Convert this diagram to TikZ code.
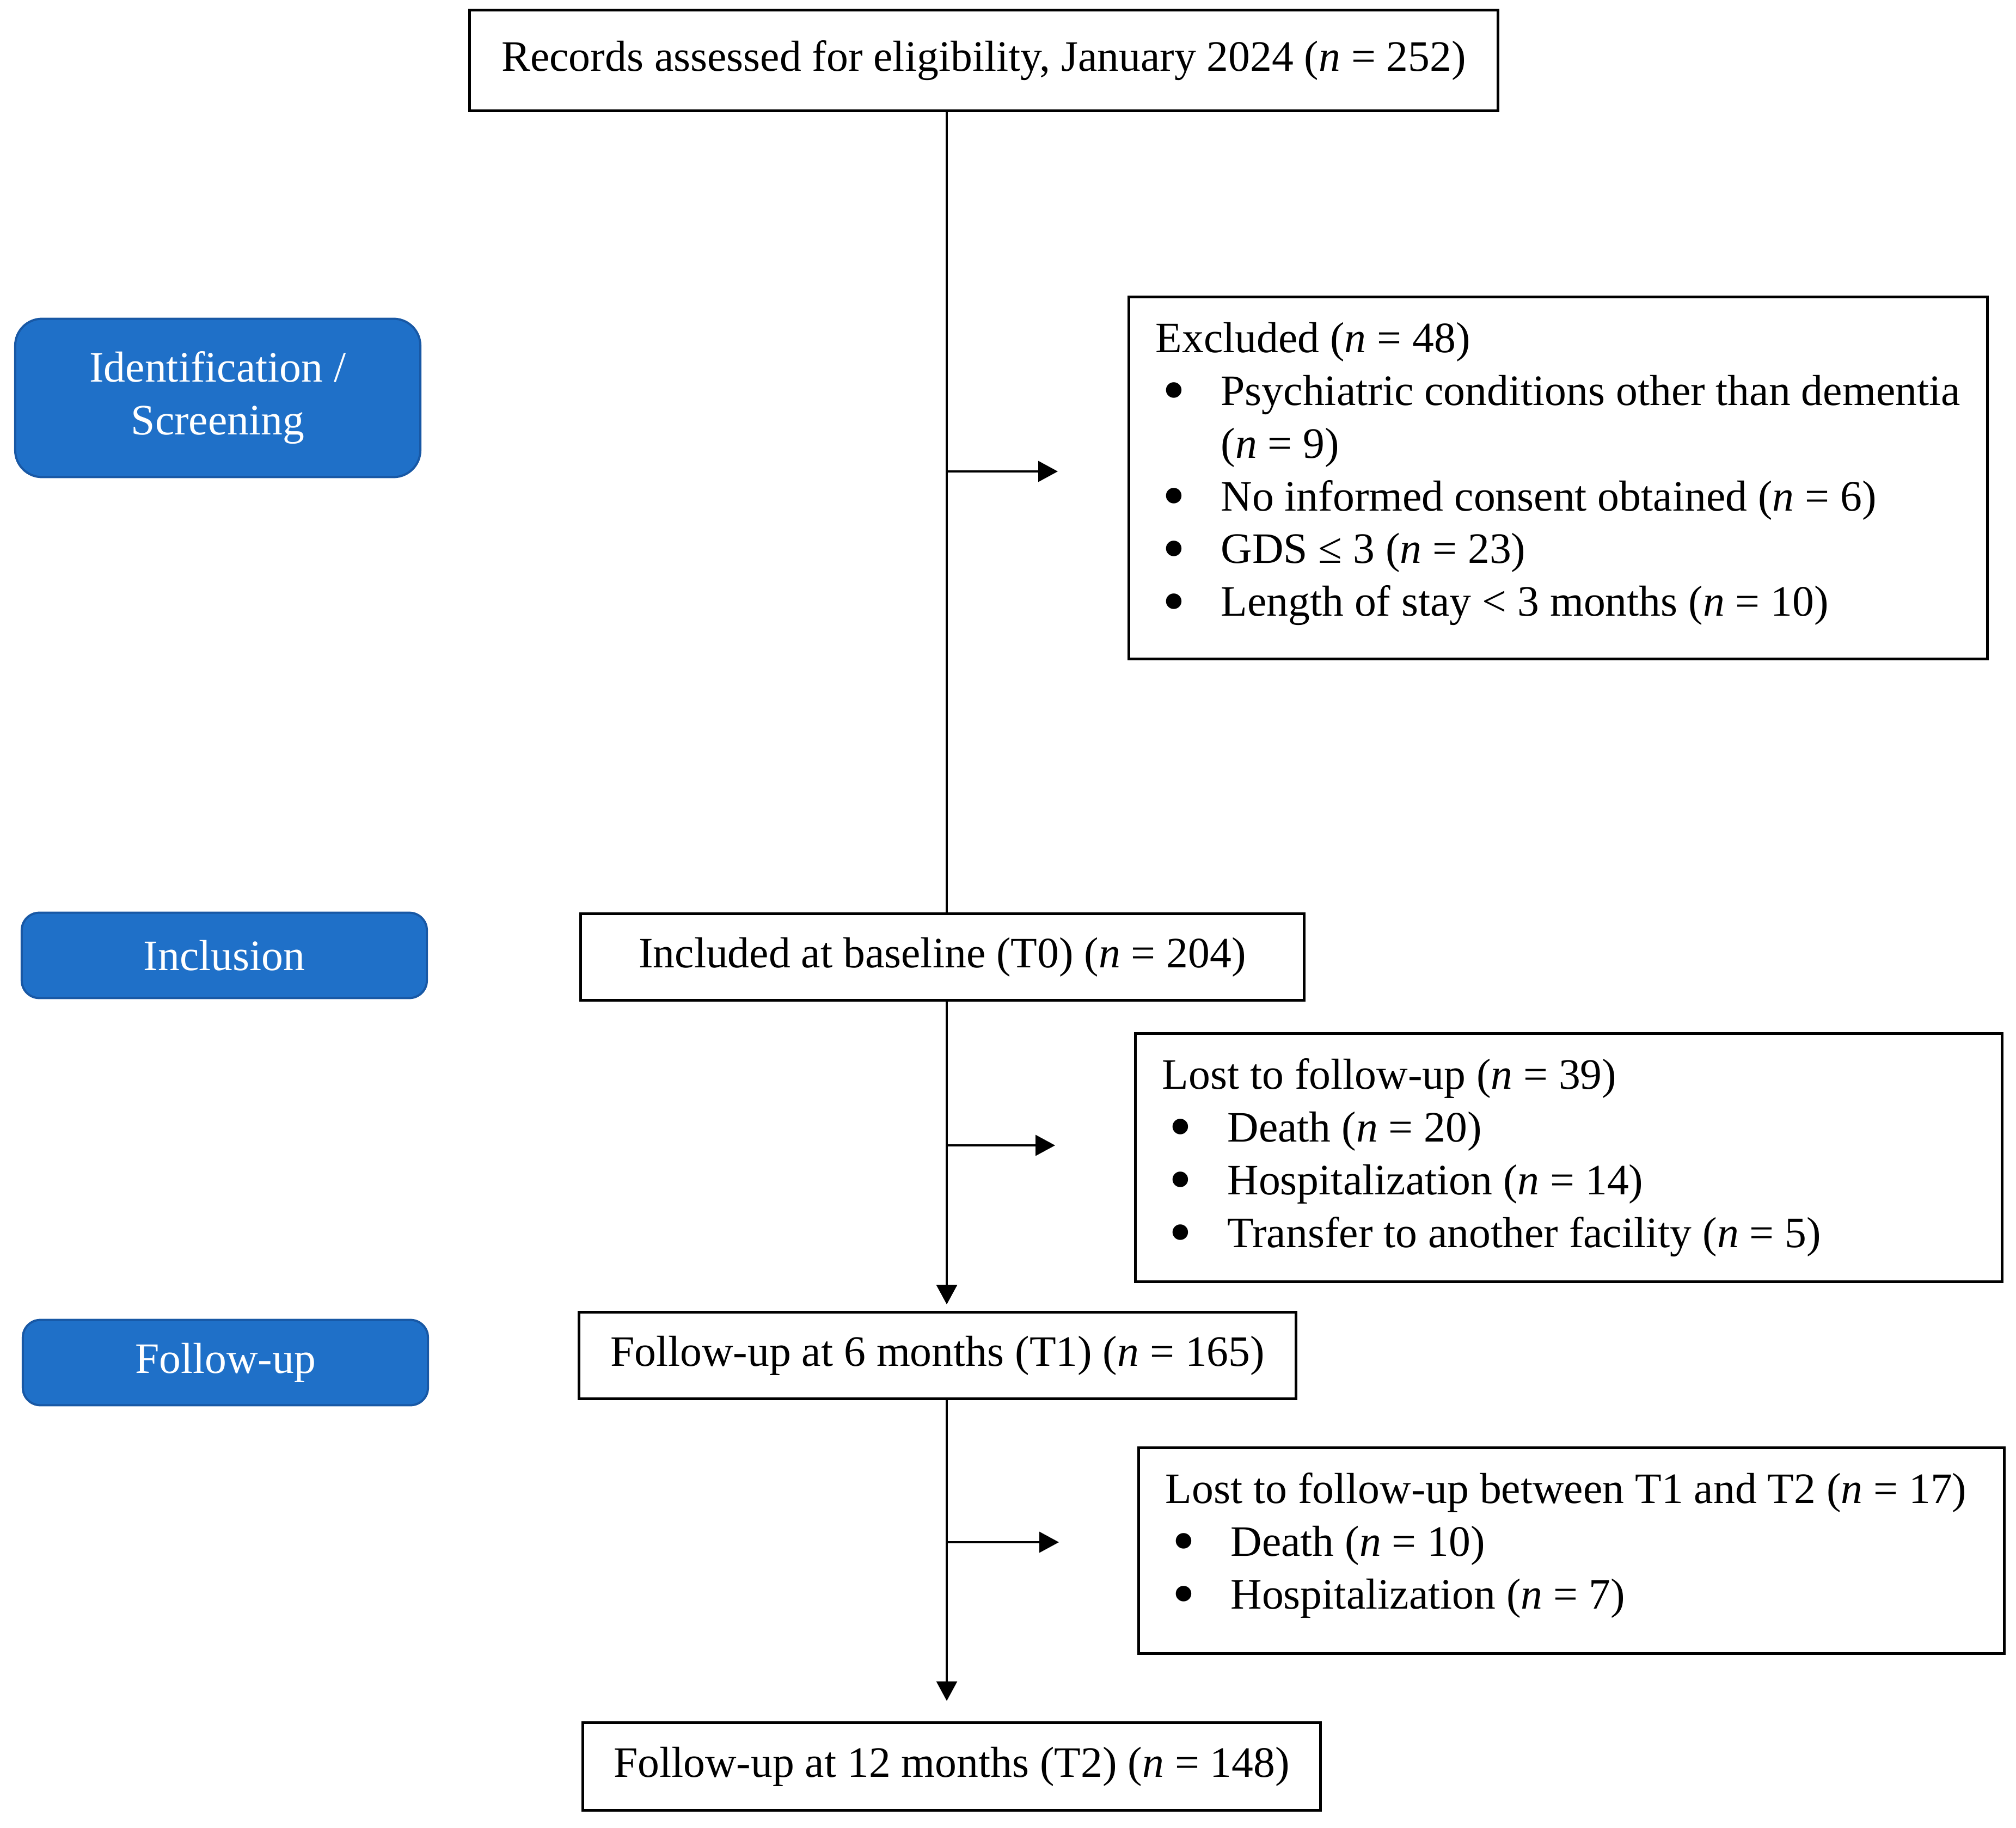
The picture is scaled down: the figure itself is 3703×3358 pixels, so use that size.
\documentclass[tikz,border=0pt]{standalone}
\usepackage{fontspec}
\setmainfont{Liberation Serif}
\usepackage{tikz}
\usetikzlibrary{arrows.meta}
\definecolor{phaseblue}{RGB}{31,112,200}
\definecolor{phaseedge}{RGB}{24,88,165}
\newcommand{\nv}{\textit{n}}
\newcommand{\blt}{\makebox[0.635cm][l]{\hspace{0.07cm}\smash{\raisebox{-1.9pt}{\scalebox{1.5}{\textbullet}}}}}

\begin{document}
\begin{tikzpicture}[x=0.0053cm,y=-0.0053cm,
  font=\fontsize{12}{14.6}\selectfont,
  box/.style={draw,line width=0.75pt,inner sep=0pt},
  listbox/.style={draw,line width=0.75pt,anchor=north west,inner xsep=0.26cm,inner ysep=0.18cm},
  phase/.style={draw=phaseedge,fill=phaseblue,text=white,line width=0.6pt,minimum width=3.94cm,align=center},
  arr/.style={-{Triangle[length=0.19cm,width=0.2cm]},line width=0.6pt}]

\useasboundingbox (0,0) rectangle (3703,3358);

\node[phase,rounded corners=0.26cm,minimum height=1.54cm] (p1) at (400,731)
{Identification /\\Screening};
\node[phase,rounded corners=0.17cm,minimum height=0.83cm] (p2) at (412,1755)
{Inclusion};
\node[phase,rounded corners=0.17cm,minimum height=0.83cm] (p3) at (414,2503)
{Follow-up};

\node[box,minimum width=10cm,minimum height=0.975cm] (1) at (1807,111)
{Records assessed for eligibility, January 2024 (\nv{} = 252)};
\node[box,minimum width=7.04cm,minimum height=0.84cm] (2) at (1731,1758)
{Included at baseline (T0) (\nv{} = 204)};
\node[box,minimum width=6.97cm,minimum height=0.84cm] (3) at (1722,2490)
{Follow-up at 6 months (T1) (\nv{} = 165)};
\node[box,minimum width=7.17cm,minimum height=0.85cm] (4) at (1748,3245)
{Follow-up at 12 months (T2) (\nv{} = 148)};

\node[listbox] (1a) at (2071,543)
{\makebox[7.83cm][l]{\begin{tabular}{@{}l@{}}
Excluded (\nv{} = 48)\\
\blt Psychiatric conditions other than dementia\\
\hspace{0.635cm}(\nv{} = 9)\\
\blt No informed consent obtained (\nv{} = 6)\\
\blt GDS ≤ 3 (\nv{} = 23)\\
\blt Length of stay < 3 months (\nv{} = 10)\\[0.08cm]
\end{tabular}}};
\node[listbox] (2a) at (2083,1896)
{\makebox[7.91cm][l]{\begin{tabular}{@{}l@{}}
Lost to follow-up (\nv{} = 39)\\
\blt Death (\nv{} = 20)\\
\blt Hospitalization (\nv{} = 14)\\
\blt Transfer to another facility (\nv{} = 5)
\end{tabular}}};
\node[listbox] (3a) at (2089,2657)
{\makebox[7.9cm][l]{\begin{tabular}{@{}l@{}}
Lost to follow-up between T1 and T2 (\nv{} = 17)\\
\blt Death (\nv{} = 10)\\
\blt Hospitalization (\nv{} = 7)\\[0.1cm]
\end{tabular}}};

\coordinate (s) at (1739,0);
\coordinate (1b) at (1943,866);
\coordinate (2b) at (1938,2104);
\coordinate (3b) at (1945,2833);

\draw[line width=0.6pt] (1.south -| s) -- (2.north -| s);
\draw[arr,shorten >=0.064cm] (2.south -| s) -- (3.north -| s);
\draw[arr,shorten >=0.2cm] (3.south -| s) -- (4.north -| s);
\draw[arr] (1b -| s) -- (1b);
\draw[arr] (2b -| s) -- (2b);
\draw[arr] (3b -| s) -- (3b);
\end{tikzpicture}
\end{document}
